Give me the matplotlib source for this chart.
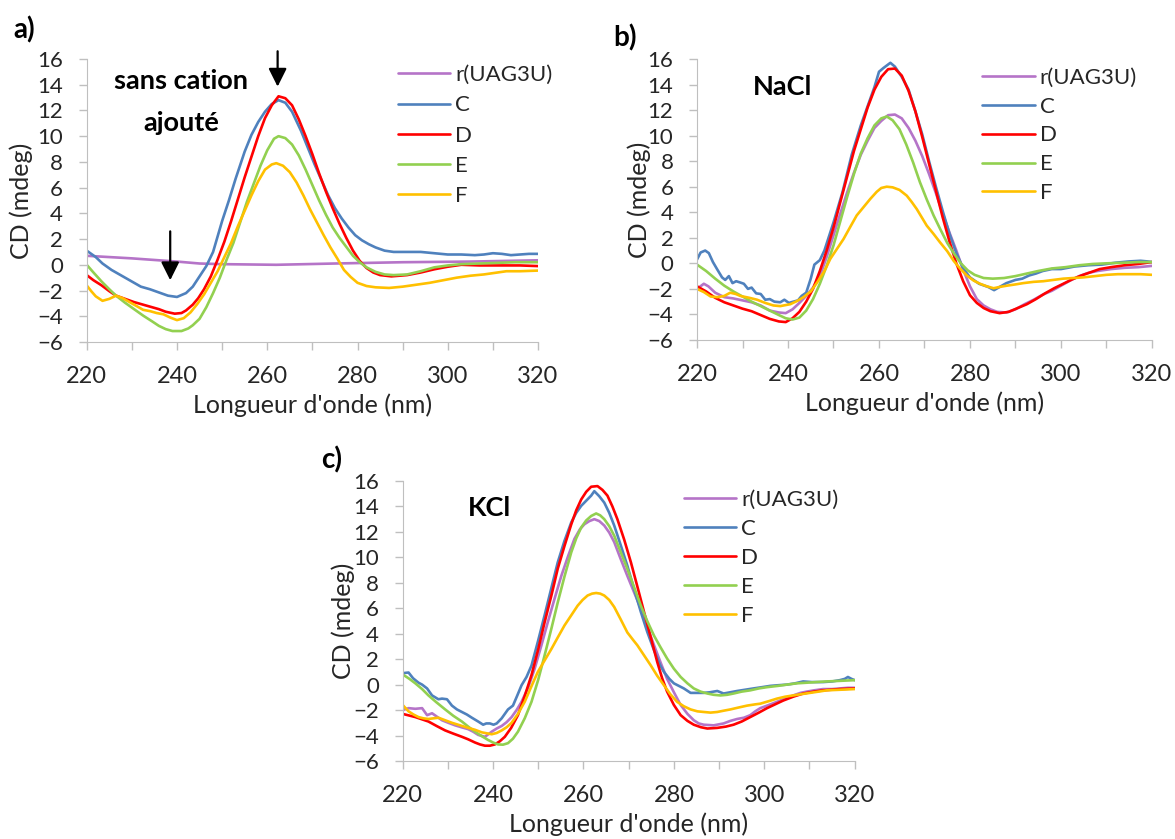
"""
CD spectra of r(UAG3U) and its complexes (C-F): no added cation, NaCl, KCl.
Three Excel-style panels, rebuilt with matplotlib.
"""
import numpy as np
import matplotlib
matplotlib.use("Agg")
import matplotlib.pyplot as plt
from matplotlib.ticker import MultipleLocator

plt.rcParams["font.family"] = ["Lato", "DejaVu Sans"]

SERIES = ["r(UAG3U)", "C", "D", "E", "F"]
COLORS = ["#B574C8", "#4F81BD", "#FF0000", "#92D050", "#FFC000"]

# (wavelength nm, CD mdeg)
# --- panel a: sans cation ajouté
a_ruag = [(220, 0.7), (230, 0.5), (240, 0.25), (245, 0.1), (250, 0.05), (262, 0.0),
          (275, 0.1), (290, 0.2), (305, 0.25), (320, 0.35)]
a_C = [(220, 1.1), (222, 0.6), (223.5, 0.1), (225.5, -0.4), (228, -0.9), (230, -1.3),
       (232, -1.7), (234, -1.9), (236, -2.15), (238, -2.4), (240, -2.5), (242, -2.2),
       (243.5, -1.7), (245, -0.9), (246.5, -0.1), (248, 1.0), (250, 3.4), (251.5, 5.0),
       (253, 6.7), (255, 8.8), (256.5, 10.1), (258, 11.1), (259.5, 11.9), (261, 12.5),
       (262.5, 12.8), (264, 12.6), (265.5, 11.9), (267.5, 10.4), (269, 9.1), (270.5, 7.8),
       (272, 6.6), (273.5, 5.4), (275, 4.4), (276.5, 3.6), (278, 2.9), (279.5, 2.3),
       (281, 1.9), (282.5, 1.6), (284, 1.35), (286, 1.1), (288, 1.0), (291, 1.0),
       (294, 1.0), (297, 0.9), (300, 0.8), (303, 0.8), (306, 0.75), (308, 0.8),
       (310, 0.9), (312, 0.85), (314, 0.75), (316, 0.8), (318, 0.85), (320, 0.85)]
a_D = [(220, -0.8), (221.5, -1.2), (223.3, -1.6), (225, -2.05), (226.5, -2.4),
       (228.5, -2.65), (230.5, -2.9), (232.5, -3.1), (234.5, -3.3), (236, -3.45),
       (237.5, -3.65), (239.5, -3.8), (241, -3.75), (242, -3.55), (243.5, -3.1),
       (244.7, -2.6), (246, -1.9), (247.5, -0.9), (249, 0.4), (250.5, 1.8), (252, 3.4),
       (253.5, 5.1), (255, 6.8), (256.5, 8.4), (258, 10.0), (259.5, 11.4), (261, 12.4),
       (262.5, 13.1), (264, 12.95), (265.5, 12.4), (267, 11.3), (268.5, 10.0), (270, 8.6),
       (271.5, 7.1), (273, 5.7), (274.5, 4.4), (276, 3.2), (277.5, 2.1), (279, 1.1),
       (280.5, 0.3), (282, -0.25), (283.5, -0.6), (285, -0.8), (287.5, -0.9), (291, -0.8),
       (294, -0.6), (297, -0.35), (300, -0.15), (303, 0.0), (307, -0.05), (312, -0.05),
       (316, -0.05), (320, -0.1)]
a_E = [(220, 0.0), (221.5, -0.6), (223.3, -1.3), (225, -1.9), (226.5, -2.4),
       (228.5, -2.95), (230.5, -3.45), (232.5, -3.95), (234.5, -4.4), (236, -4.75),
       (237.5, -5.0), (239, -5.15), (241, -5.15), (242.5, -4.95), (243.5, -4.7),
       (245, -4.2), (246.5, -3.3), (248, -2.2), (249.5, -1.0), (251, 0.4), (252.5, 1.7),
       (254, 3.3), (255.5, 4.9), (257, 6.3), (258.5, 7.7), (260, 8.9), (261.5, 9.8),
       (262.5, 10.0), (264, 9.85), (265.5, 9.35), (267, 8.5), (268.5, 7.4), (270, 6.2),
       (271.5, 5.0), (273, 3.9), (274.5, 2.9), (276, 2.1), (277.5, 1.4), (279, 0.7),
       (280.5, 0.2), (282, -0.2), (284, -0.55), (286, -0.75), (288, -0.8), (291, -0.75),
       (294, -0.5), (297, -0.2), (300, -0.05), (303, 0.05), (307, 0.1), (311, 0.15),
       (315, 0.2), (320, 0.2)]
a_F = [(220, -1.6), (221, -2.05), (222, -2.45), (223.5, -2.8), (225, -2.65),
       (226.5, -2.4), (228, -2.6), (229.5, -2.9), (231, -3.2), (232.5, -3.5), (234, -3.6),
       (235.5, -3.75), (237, -3.85), (238.5, -4.1), (240, -4.3), (241.5, -4.15),
       (243, -3.7), (244.5, -3.05), (246, -2.3), (247.5, -1.4), (249, -0.5), (250.5, 0.6),
       (252, 1.7), (253.5, 3.0), (255, 4.2), (256.5, 5.4), (258, 6.5), (259.5, 7.4),
       (261, 7.8), (262, 7.9), (263.5, 7.7), (265, 7.2), (266.5, 6.4), (268, 5.4),
       (269.5, 4.3), (271, 3.3), (272.5, 2.3), (274, 1.35), (275.5, 0.5), (277, -0.4),
       (278.5, -0.95), (280, -1.4), (282, -1.65), (284, -1.75), (287, -1.8), (290, -1.7),
       (293, -1.55), (296, -1.4), (299, -1.2), (302, -1.0), (305, -0.85), (308, -0.75),
       (311, -0.6), (313, -0.5), (316, -0.5), (320, -0.45)]

# --- panel b: NaCl
b_ruag = [(220, -2.0), (221.5, -1.6), (222.5, -1.8), (224, -2.3), (226, -2.65),
          (228, -2.75), (230, -2.9), (232, -3.05), (234, -3.3), (236, -3.7), (238, -3.85),
          (239.5, -3.9), (241, -3.6), (242.5, -3.1), (244, -2.55), (245.5, -1.9),
          (247, -1.0), (248.5, 0.5), (250, 2.2), (251.5, 3.9), (253, 5.55), (254.5, 7.1),
          (256, 8.5), (257.5, 9.6), (259, 10.6), (260.5, 11.15), (262, 11.6),
          (263.5, 11.65), (265, 11.35), (266.5, 10.6), (268, 9.6), (269.5, 8.4),
          (271, 7.0), (272.5, 5.5), (274, 3.9), (275.5, 2.4), (277, 1.0), (278.5, -0.5),
          (280, -1.8), (281.5, -2.8), (283, -3.3), (284.5, -3.6), (286, -3.8),
          (288, -3.85), (290, -3.6), (292, -3.2), (294, -2.85), (296, -2.45),
          (298, -2.15), (300, -1.75), (302, -1.35), (304, -1.0), (306, -0.75),
          (308, -0.6), (311, -0.45), (314, -0.35), (317, -0.3), (320, -0.2)]
b_C = [(220, 0.3), (220.8, 0.85), (221.8, 1.0), (222.6, 0.8), (223.5, 0.1),
       (224.4, -0.45), (225.5, -1.1), (226.2, -1.3), (227, -1.0), (227.8, -1.55),
       (228.6, -1.4), (229.5, -1.5), (230.3, -1.6), (231.2, -2.0), (232, -1.9),
       (233, -2.35), (234, -2.4), (235, -2.85), (236, -2.8), (237, -3.0), (238.3, -3.05),
       (239.2, -2.85), (240.2, -3.1), (241.2, -3.0), (242.2, -2.9), (243, -2.55),
       (244, -2.3), (245, -1.2), (245.8, -0.1), (247, 0.25), (248, 1.0), (250, 3.2),
       (252, 5.6), (254, 8.5), (256, 10.8), (257.5, 12.3), (259, 13.8), (260, 15.0),
       (261, 15.3), (262.5, 15.7), (263.5, 15.4), (265, 14.6), (266.5, 13.6),
       (268, 11.9), (269.5, 10.1), (271, 8.0), (272.5, 6.0), (274, 4.1), (275.5, 2.3),
       (277, 0.8), (278.5, -0.4), (280, -1.1), (282, -1.6), (284, -1.85), (285.3, -2.1),
       (286.5, -1.85), (288, -1.55), (290, -1.3), (291.5, -1.2), (293, -0.95),
       (294.5, -0.8), (296, -0.6), (298, -0.45), (300, -0.45), (303, -0.25),
       (306, -0.15), (309, -0.1), (312, 0.05), (315, 0.15), (317.5, 0.2), (319, 0.15),
       (320, 0.1)]
b_D = [(220, -1.8), (222, -2.2), (224, -2.7), (226, -3.05), (228, -3.3), (230, -3.55),
       (232, -3.75), (234, -4.05), (236, -4.35), (238, -4.55), (239.5, -4.6),
       (241, -4.3), (242.5, -3.8), (244, -3.0), (245.5, -2.0), (247, -0.6), (248.5, 1.0),
       (250, 2.8), (251.5, 4.8), (253, 6.8), (254.5, 8.8), (256, 10.5), (257.5, 12.2),
       (259, 13.6), (260.5, 14.6), (262, 15.2), (263.5, 15.25), (265, 14.7),
       (266.5, 13.5), (268, 11.9), (269.5, 9.9), (271, 7.8), (272.5, 5.7), (274, 3.6),
       (275.5, 1.7), (277, 0.0), (278.5, -1.4), (280, -2.5), (281.5, -3.1), (283, -3.5),
       (284.5, -3.75), (286.5, -3.9), (288.5, -3.8), (290.5, -3.5), (292.5, -3.2),
       (294.5, -2.8), (296.5, -2.35), (298.5, -1.95), (300.5, -1.6), (302.5, -1.25),
       (304.5, -0.95), (306.5, -0.7), (308.5, -0.45), (311, -0.3), (314, -0.15),
       (317, -0.05), (320, 0.1)]
b_E = [(220, -0.1), (222, -0.6), (224, -1.2), (226, -1.75), (228, -2.2), (230, -2.6),
       (232, -3.0), (234, -3.35), (236, -3.7), (238, -4.05), (239.5, -4.3), (241, -4.4),
       (242.5, -4.25), (244, -3.7), (245.5, -2.8), (247, -1.6), (248.5, -0.2),
       (250, 1.4), (251.5, 3.3), (253, 5.2), (254.5, 7.0), (256, 8.6), (257.5, 9.8),
       (259, 10.8), (260.5, 11.35), (261.7, 11.5), (263, 11.2), (264.5, 10.5),
       (266, 9.3), (267.5, 7.9), (269, 6.35), (270.5, 5.0), (272, 3.75), (273.5, 2.65),
       (275, 1.6), (276.5, 0.75), (278, 0.0), (279.5, -0.55), (281, -0.9), (283, -1.15),
       (285, -1.2), (287.5, -1.15), (290, -1.0), (292.5, -0.8), (295, -0.6), (298, -0.4),
       (301, -0.3), (304, -0.15), (307, -0.05), (310, 0.0), (314, 0.05), (317, 0.1),
       (320, 0.1)]
b_F = [(220, -2.0), (221.5, -2.25), (223, -2.6), (224.5, -2.65), (226, -2.55),
       (227.3, -2.3), (228.5, -2.4), (229.5, -2.55), (231.5, -2.7), (233.2, -2.85),
       (235, -3.1), (236.8, -3.3), (238.3, -3.35), (240.5, -3.2), (242, -2.95),
       (243.4, -2.65), (245, -2.2), (246.4, -1.5), (248, -0.6), (249.3, 0.35),
       (250.7, 1.1), (252.2, 1.9), (253.6, 2.8), (255.1, 3.75), (256.6, 4.4),
       (258.1, 5.05), (259.5, 5.6), (260.5, 5.9), (261.7, 6.0), (263, 5.95),
       (264.5, 5.75), (266.1, 5.3), (267.2, 4.8), (268.3, 4.25), (270.5, 2.95),
       (272, 2.3), (273.4, 1.65), (275, 0.95), (276.4, 0.2), (277.8, -0.4),
       (279.3, -0.95), (280.8, -1.35), (282.2, -1.6), (283.7, -1.8), (285.2, -1.95),
       (286.5, -1.85), (288.1, -1.75), (290, -1.65), (291.7, -1.55), (294, -1.45),
       (296.1, -1.4), (298.3, -1.3), (300.5, -1.2), (302.7, -1.15), (304.9, -1.1),
       (307.5, -1.0), (310, -0.9), (312.5, -0.85), (315.2, -0.85), (317.5, -0.85),
       (320, -0.9)]

# --- panel c: KCl
c_ruag = [(220, -2.0), (221.3, -1.85), (222.8, -1.9), (224.3, -1.85), (225.4, -2.4),
          (226.5, -2.25), (227.5, -2.5), (228.7, -2.8), (230.1, -3.0), (231.6, -3.2),
          (233, -3.35), (234.5, -3.5), (235.6, -3.7), (236.7, -3.95), (238.2, -4.1),
          (239.7, -3.7), (240.8, -3.45), (241.9, -3.25), (243, -2.95), (244.1, -2.55),
          (245.2, -2.0), (246.3, -1.35), (247.8, -0.2), (249.2, 1.25), (250.7, 3.1),
          (252.1, 4.9), (253.6, 6.75), (255.1, 8.55), (256.6, 10.1), (258, 11.45),
          (259.2, 12.2), (260.2, 12.6), (261.3, 12.85), (262.4, 13.0), (263.5, 12.85),
          (264.6, 12.5), (265.7, 11.95), (266.8, 11.2), (268.2, 9.9), (269.7, 8.55),
          (271.2, 7.25), (272.7, 5.95), (274.1, 4.55), (275.6, 3.1), (277.1, 1.7),
          (278.5, 0.45), (280, -0.6), (281.5, -1.6), (283, -2.3), (284.4, -2.8),
          (285.5, -3.05), (286.6, -3.15), (288.8, -3.2), (291, -3.05), (292.5, -2.85),
          (294, -2.7), (295.5, -2.6), (296.9, -2.4), (298, -2.1), (299.1, -1.85),
          (301, -1.6), (302.8, -1.35), (304.6, -1.1), (306.4, -0.85), (308, -0.65),
          (309.4, -0.55), (311, -0.45), (313, -0.35), (315, -0.35), (316.7, -0.3),
          (318.5, -0.25), (320, -0.25)]
c_C = [(220, 0.9), (221.3, 0.95), (222.3, 0.5), (223.5, 0.15), (224.3, 0.0),
       (225.4, -0.3), (226.5, -0.85), (227.9, -1.15), (228.7, -1.1), (229.8, -1.15),
       (230.9, -1.65), (232, -1.95), (233.1, -2.15), (234.2, -2.35), (235.3, -2.6),
       (236.7, -2.9), (237.8, -3.15), (238.5, -3.05), (239.3, -3.05), (240.1, -3.15),
       (240.8, -3.05), (241.9, -2.65), (243.3, -1.95), (244.4, -1.65), (245.3, -0.9),
       (246.3, -0.05), (247.4, 0.6), (248.5, 1.5), (250, 3.5), (251.4, 5.45),
       (252.9, 7.6), (254.3, 9.6), (255.8, 11.3), (257.3, 12.75), (258.4, 13.5),
       (259.5, 14.05), (260.6, 14.45), (261.7, 14.85), (262.4, 15.2), (263.5, 14.8),
       (264.6, 14.3), (265.7, 13.5), (266.8, 12.5), (268.2, 11.0), (269.7, 9.35),
       (271.2, 7.5), (272.7, 5.7), (274.1, 4.15), (275.6, 2.7), (277, 1.5), (277.8, 1.0),
       (279, 0.45), (280, 0.1), (281.1, -0.1), (282.2, -0.3), (283.7, -0.65),
       (285, -0.65), (286.6, -0.65), (288, -0.6), (289.6, -0.5), (291, -0.7),
       (292.5, -0.6), (294, -0.5), (295.8, -0.4), (297.6, -0.3), (299.5, -0.2),
       (301.3, -0.1), (303, -0.05), (305, 0.0), (306.8, 0.1), (308.6, 0.25),
       (310.5, 0.2), (313, 0.2), (315, 0.25), (316.7, 0.35), (317.8, 0.45),
       (318.5, 0.6), (319.3, 0.45), (320, 0.35)]
c_D = [(220, -2.3), (222.8, -2.55), (225.7, -2.9), (227.5, -3.25), (229.4, -3.6),
       (231.2, -3.85), (233.1, -4.1), (234.5, -4.3), (236, -4.55), (237.1, -4.7),
       (238.2, -4.8), (239.3, -4.8), (240.4, -4.7), (241.5, -4.45), (242.6, -4.1),
       (244, -3.4), (245.5, -2.4), (247, -0.9), (248.5, 0.75), (250, 2.8), (251.4, 4.9),
       (252.9, 7.0), (254.3, 9.1), (255.8, 10.9), (257.3, 12.6), (258.4, 13.7),
       (259.5, 14.55), (260.6, 15.15), (261.7, 15.55), (263.1, 15.6), (264.2, 15.3),
       (265.3, 14.85), (266.4, 14.0), (267.5, 13.0), (269, 11.4), (270.5, 9.6),
       (272, 7.6), (273.4, 5.7), (274.9, 3.7), (276.3, 1.8), (277.4, 0.5),
       (278.5, -0.55), (280, -1.6), (281.5, -2.4), (283, -2.85), (284.4, -3.15),
       (286, -3.35), (287.4, -3.45), (289.6, -3.4), (291.5, -3.3), (293.2, -3.15),
       (295, -2.9), (296.9, -2.55), (298.8, -2.2), (300.6, -1.85), (302.4, -1.55),
       (304.2, -1.25), (306.4, -0.95), (308.6, -0.7), (311, -0.55), (313, -0.45),
       (316.7, -0.35), (320, -0.3)]
c_E = [(220, 0.8), (221.5, 0.45), (222.8, 0.1), (224.3, -0.35), (225.7, -0.85),
       (227.5, -1.4), (229.4, -1.95), (231.2, -2.45), (233.1, -2.9), (234.5, -3.3),
       (236, -3.7), (237.5, -4.05), (238.9, -4.35), (240, -4.55), (241.1, -4.7),
       (242.2, -4.72), (243.3, -4.6), (244.4, -4.25), (245.5, -3.7), (247, -2.65),
       (248.5, -1.35), (250, 0.4), (251.4, 2.3), (252.9, 4.4), (254.3, 6.45),
       (255.8, 8.5), (257.3, 10.4), (258.4, 11.5), (259.5, 12.35), (260.6, 12.9),
       (261.7, 13.25), (262.8, 13.45), (263.7, 13.3), (264.6, 13.0), (265.7, 12.45),
       (266.8, 11.7), (268.2, 10.45), (269.7, 9.1), (271.2, 7.65), (272.7, 6.2),
       (274.1, 5.0), (275.6, 3.85), (277.1, 2.9), (278.5, 2.05), (280, 1.25),
       (281.5, 0.6), (283, 0.1), (284.4, -0.3), (285.9, -0.55), (287.4, -0.7),
       (288.8, -0.8), (290.3, -0.85), (291.8, -0.8), (293.2, -0.7), (295, -0.55),
       (296.9, -0.45), (298.8, -0.3), (300.6, -0.2), (303, -0.1), (305, 0.0),
       (307.2, 0.1), (309.4, 0.15), (311.5, 0.2), (313.8, 0.25), (317, 0.3), (320, 0.35)]
c_F = [(220, -1.6), (221.3, -2.1), (222.4, -2.35), (223.5, -2.55), (224.6, -2.65),
       (225.7, -2.7), (226.8, -2.65), (227.9, -2.6), (229.4, -2.8), (230.9, -3.0),
       (232.7, -3.2), (234.5, -3.4), (236, -3.55), (237.5, -3.75), (239.7, -3.9),
       (240.8, -3.8), (241.9, -3.6), (243, -3.35), (244.1, -3.0), (245.5, -2.3),
       (247, -1.35), (248.4, -0.2), (249.9, 1.0), (251.4, 1.9), (252.9, 2.8),
       (254.3, 3.7), (255.8, 4.65), (257.3, 5.45), (258.7, 6.2), (259.8, 6.65),
       (260.9, 7.0), (261.9, 7.15), (262.8, 7.2), (263.7, 7.15), (264.6, 7.0),
       (265.7, 6.65), (266.8, 6.1), (268.2, 5.15), (269.7, 4.1), (271, 3.5), (271.9, 3.1),
       (273.4, 2.3), (274.9, 1.5), (276.3, 0.7), (277.8, -0.05), (279.2, -0.75),
       (280.7, -1.35), (282.2, -1.7), (283.7, -1.95), (285.2, -2.1), (286.6, -2.15),
       (288.1, -2.2), (289.6, -2.15), (291, -2.05), (292.5, -1.95), (294.3, -1.8),
       (296.2, -1.65), (298, -1.55), (299.1, -1.5), (301, -1.3), (302.8, -1.1),
       (304.6, -0.95), (306.4, -0.85), (308.2, -0.75), (310.1, -0.65), (312, -0.55),
       (313.8, -0.45), (317, -0.4), (320, -0.35)]

AXIS_GREY = "#BFBFBF"
TEXT_COL = "#262626"


def draw_panel(ax, curves, legend_xy, legend_gap, ylabel_x):
    for name, color, pts in zip(SERIES, COLORS, curves):
        wl, cd = np.array(pts).T
        ax.plot(wl, cd, color=color, lw=1.9, label=name,
                solid_joinstyle="round", solid_capstyle="round")
    ax.set_xlim(220, 320)
    ax.set_ylim(-6, 16)
    ax.xaxis.set_major_locator(MultipleLocator(20))
    ax.xaxis.set_minor_locator(MultipleLocator(10))
    ax.yaxis.set_major_locator(MultipleLocator(2))
    for side in ("top", "right"):
        ax.spines[side].set_visible(False)
    for side in ("left", "bottom"):
        ax.spines[side].set_color(AXIS_GREY)
    ax.tick_params(which="both", direction="out", length=6, width=1, color=AXIS_GREY)
    ax.tick_params(axis="x", labelsize=17, labelcolor=TEXT_COL, pad=11)
    ax.tick_params(axis="y", labelsize=16, labelcolor=TEXT_COL, pad=11)
    ax.set_xlabel("Longueur d'onde (nm)", fontsize=18, color=TEXT_COL, labelpad=5)
    ax.set_ylabel("CD (mdeg)", fontsize=18, color=TEXT_COL)
    ax.yaxis.set_label_coords(ylabel_x, 0.5)
    ax.legend(loc="upper left", bbox_to_anchor=legend_xy, frameon=False, fontsize=16,
              handlelength=2.35, handletextpad=0.22, labelspacing=legend_gap,
              borderaxespad=0, borderpad=0, labelcolor=TEXT_COL)


fig = plt.figure(figsize=(11.75, 8.39), dpi=100)
ax_a = fig.add_axes([0.0738, 0.5924, 0.3841, 0.3373])
ax_b = fig.add_axes([0.5932, 0.5948, 0.3872, 0.3349])
ax_c = fig.add_axes([0.3427, 0.0930, 0.3847, 0.3337])

draw_panel(ax_a, [a_ruag, a_C, a_D, a_E, a_F], (0.69, 0.978), 0.46, -0.119)
draw_panel(ax_b, [b_ruag, b_C, b_D, b_E, b_F], (0.6275, 0.969), 0.40, -0.101)
draw_panel(ax_c, [c_ruag, c_C, c_D, c_E, c_F], (0.622, 0.969), 0.41, -0.106)

# condition labels
ax_a.text(241, 13.64, "sans cation", fontsize=19.5, fontweight="bold", ha="center", va="baseline")
ax_a.text(241, 10.4, "ajouté", fontsize=19.5, fontweight="bold", ha="center", va="baseline")
ax_b.text(238.7, 13.16, "NaCl", fontsize=19.5, fontweight="bold", ha="center", va="baseline")
ax_c.text(239.3, 13.27, "KCl", fontsize=19.5, fontweight="bold", ha="center", va="baseline")

# arrows marking the band maxima/minima in panel a
arrow = dict(arrowstyle="-|>,head_length=0.5,head_width=0.25", mutation_scale=22,
             lw=1.6, color="black", shrinkA=0, shrinkB=0)
ax_a.annotate("", xy=(262.3, 13.85), xytext=(262.3, 16.6), arrowprops=arrow,
              annotation_clip=False)
ax_a.annotate("", xy=(238.5, -1.2), xytext=(238.5, 2.6), arrowprops=arrow,
              annotation_clip=False)

# panel letters
fig.text(0.011, 0.964, "a)", fontsize=20, fontweight="bold", va="center")
fig.text(0.522, 0.955, "b)", fontsize=20, fontweight="bold", va="center")
fig.text(0.273, 0.452, "c)", fontsize=20, fontweight="bold", va="center")

fig.savefig("out.png", dpi=100)
